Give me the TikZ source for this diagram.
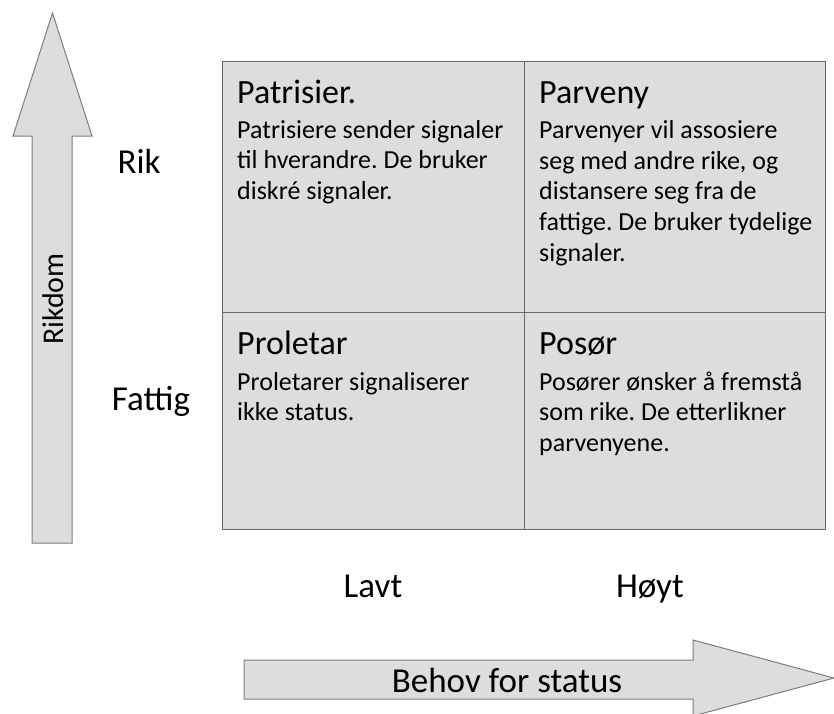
\documentclass[tikz,border=0pt]{standalone}
\usepackage{fontspec}
\setmainfont{Carlito}
\frenchspacing
\definecolor{boxfill}{RGB}{221,221,221}
\definecolor{gridline}{RGB}{105,105,105}
\definecolor{arrowline}{RGB}{125,125,125}
\begin{document}
\begin{tikzpicture}[x=1pt,y=-1pt,
  blockarrow/.style={fill=boxfill,draw=arrowline,line width=1pt,line join=miter},
  cell/.style={fill=boxfill,draw=gridline,line width=1pt},
  title/.style={anchor=base west,inner sep=0pt,font=\fontsize{34}{40}\selectfont},
  body/.style={anchor=base west,inner sep=0pt,align=left,font=\fontsize{26}{30.6}\selectfont},
  lab/.style={anchor=base,inner sep=0pt,font=\fontsize{35}{40}\selectfont}]
\useasboundingbox (0,0) rectangle (834,713);
% vertical arrow
\draw[blockarrow] (32,543) -- (32,136) -- (13,136) -- (52.5,13) -- (92,136) -- (72,136) -- (72,543) -- cycle;
\node[lab,rotate=90,font=\fontsize{30}{34}\selectfont] (rikdom) at (63,299) {Rikdom};
% horizontal arrow
\draw[blockarrow] (244,660) -- (693,660) -- (693,640) -- (834,678) -- (693,716) -- (693,699) -- (244,699) -- cycle;
\node[lab] (behov) at (507,692) {Behov for status};
% grid
\draw[cell] (222,61) rectangle (825,529);
\draw[gridline,line width=1pt] (524,61) -- (524,529);
\draw[gridline,line width=1pt] (222,312) -- (825,312);
% cell texts (body nodes anchored at the baseline of their last line)
\node[title] (t1) at (237,103) {Patrisier.};
\node[body] (b1) at (237,199.2) {Patrisiere sender signaler\\til hverandre. De bruker\\diskré signaler.};
\node[title] (t2) at (539,103) {Parveny};
\node[body] (b2) at (539,261) {Parvenyer vil assosiere\\seg med andre rike, og\\distansere seg fra de\\fattige. De bruker tydelige\\signaler.};
\node[title] (t3) at (237,354) {Proletar};
\node[body] (b3) at (237,420.6) {Proletarer signaliserer\\ikke status.};
\node[title] (t4) at (539,354) {Posør};
\node[body] (b4) at (539,451.2) {Posører ønsker å fremstå\\som rike. De etterlikner\\parvenyene.};
% labels
\node[lab] (rik) at (139,173) {Rik};
\node[lab] (fattig) at (151,410) {Fattig};
\node[lab] (lavt) at (373,597) {Lavt};
\node[lab] (hoyt) at (650,597) {Høyt};
\end{tikzpicture}
\end{document}
